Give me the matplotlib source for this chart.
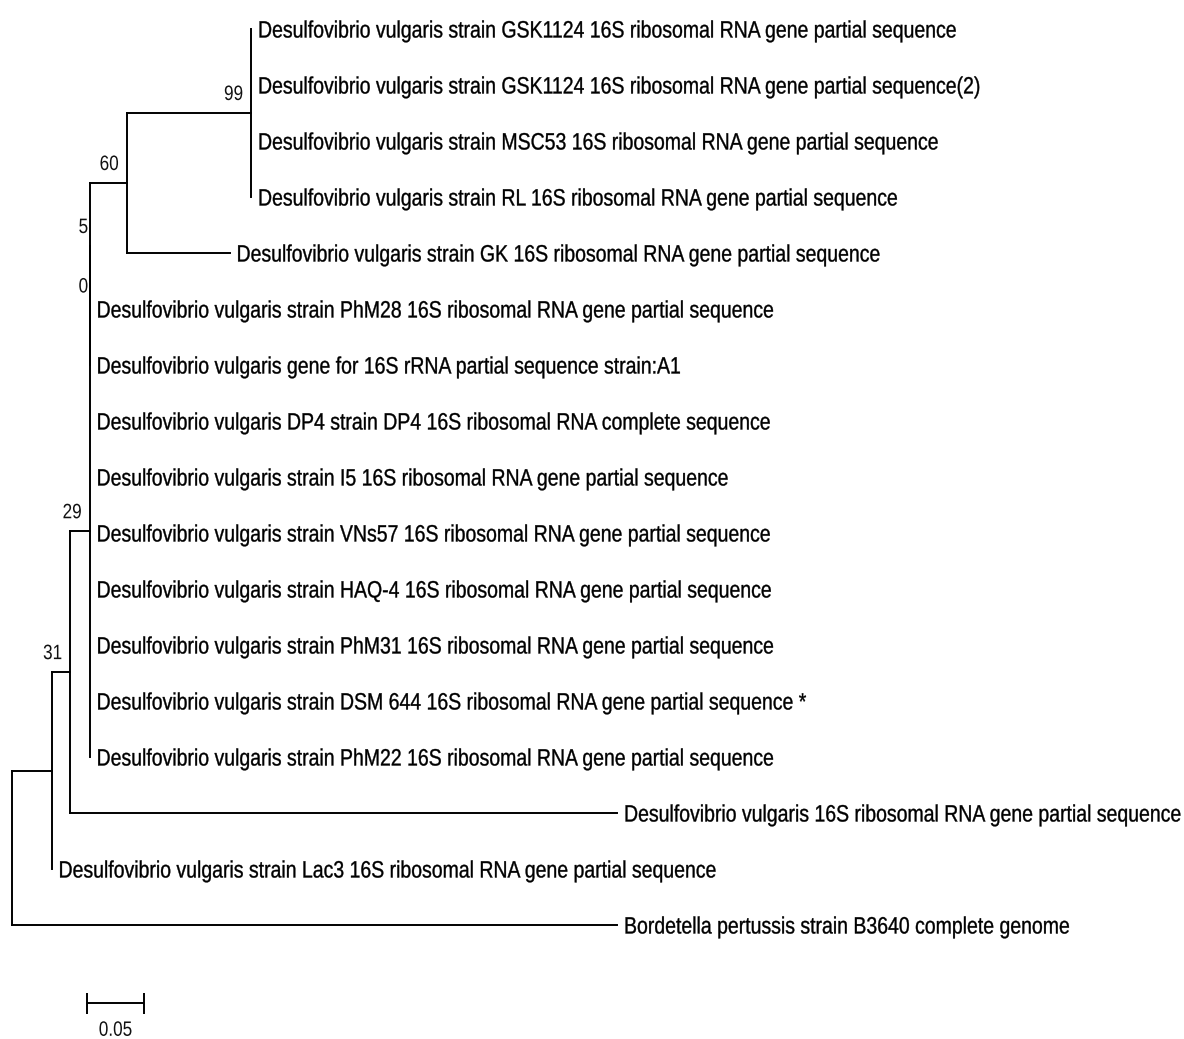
import matplotlib
matplotlib.use("Agg")
import matplotlib.pyplot as plt
from matplotlib.patheffects import AbstractPathEffect
from matplotlib.transforms import Affine2D

# ---------------- data ----------------
leaf_labels = [
    "Desulfovibrio vulgaris strain GSK1124 16S ribosomal RNA gene partial sequence",
    "Desulfovibrio vulgaris strain GSK1124 16S ribosomal RNA gene partial sequence(2)",
    "Desulfovibrio vulgaris strain MSC53 16S ribosomal RNA gene partial sequence",
    "Desulfovibrio vulgaris strain RL 16S ribosomal RNA gene partial sequence",
    "Desulfovibrio vulgaris strain GK 16S ribosomal RNA gene partial sequence",
    "Desulfovibrio vulgaris strain PhM28 16S ribosomal RNA gene partial sequence",
    "Desulfovibrio vulgaris gene for 16S rRNA partial sequence strain:A1",
    "Desulfovibrio vulgaris DP4 strain DP4 16S ribosomal RNA complete sequence",
    "Desulfovibrio vulgaris strain I5 16S ribosomal RNA gene partial sequence",
    "Desulfovibrio vulgaris strain VNs57 16S ribosomal RNA gene partial sequence",
    "Desulfovibrio vulgaris strain HAQ-4 16S ribosomal RNA gene partial sequence",
    "Desulfovibrio vulgaris strain PhM31 16S ribosomal RNA gene partial sequence",
    "Desulfovibrio vulgaris strain DSM 644 16S ribosomal RNA gene partial sequence *",
    "Desulfovibrio vulgaris strain PhM22 16S ribosomal RNA gene partial sequence",
    "Desulfovibrio vulgaris 16S ribosomal RNA gene partial sequence",
    "Desulfovibrio vulgaris strain Lac3 16S ribosomal RNA gene partial sequence",
    "Bordetella pertussis strain B3640 complete genome",
]
leaf_lengths = [0, 0, 0, 0, 0.0905, 0, 0, 0, 0, 0, 0, 0, 0, 0, 0.4815, 0, 0.5326]

node_names = ["n99", "n60", "n5", "n0", "n29", "n31", "nA", "root"]
node_children = [
    [0, 1, 2, 3],
    ["n99", 4],
    ["n60", 5],
    ["n5", 6],
    ["n0", 7, 8, 9, 10, 11, 12, 13],
    ["n29", 14],
    ["n31", 15],
    ["nA", 16],
]
node_lengths = [0.1094, 0.0327, 0, 0, 0.0172, 0.0163, 0.0348, 0]
node_support = ["99", "60", "5", "0", "29", "31", "", ""]

scale_length = 0.05
scale_label = "0.05"

# ---------------- layout / style ----------------
W, H, DPI = 1184, 1039, 100
PX_PER_UNIT = 1136.0
ROOT_PX = 12.0
ROW0_PX, ROW_PX = 29.0, 56.0
LW = 1.4
FONT = ["Liberation Sans", "DejaVu Sans"]
LEAF_FS = 17.0      # size giving the reference cap height
SUP_FS = 15.0
TARGET_W0 = 700.0   # px width of the first leaf label in the reference
SCALE_X0 = (87.0 - ROOT_PX) / PX_PER_UNIT
SCALE_ROW = (1003.3 - ROW0_PX) / ROW_PX
CAP_ROWS = 10.5 / ROW_PX
LEAF_STROKE_PX = 0.25
SUP_STROKE_PX = 0.0


def pt(px):
    return px * 72.0 / DPI


class TallText(AbstractPathEffect):
    """Stretch glyphs vertically about the baseline (reference type is tall/condensed)
    and optionally give them a hair stroke for the reference's heavier look."""

    def __init__(self, sy, stroke):
        super().__init__()
        self.sy = sy
        self.stroke = stroke

    def draw_path(self, renderer, gc, tpath, affine, rgbFace=None):
        tr = Affine2D().scale(1.0, self.sy) + affine
        gc0 = renderer.new_gc()
        gc0.copy_properties(gc)
        gc0.set_linewidth(self.stroke)
        if self.stroke > 0:
            gc0.set_foreground(rgbFace if rgbFace is not None else "black")
            gc0.set_joinstyle("round")
        renderer.draw_path(gc0, tpath, tr, rgbFace)
        gc0.restore()


fig = plt.figure(figsize=(W / DPI, H / DPI), dpi=DPI)
fig.patch.set_facecolor("white")
ax = fig.add_axes([0, 0, 1, 1])
ax.set_xlim(-ROOT_PX / PX_PER_UNIT, (W - ROOT_PX) / PX_PER_UNIT)
ax.set_ylim((H - ROW0_PX) / ROW_PX, -ROW0_PX / ROW_PX)
ax.axis("off")

# ---------------- tree coordinates ----------------
node_idx = {n: i for i, n in enumerate(node_names)}
leaf_y = list(range(len(leaf_labels)))
node_y = [0.0] * len(node_names)


def ypos(c):
    return leaf_y[c] if isinstance(c, int) else node_y[node_idx[c]]


for i, ch in enumerate(node_children):
    node_y[i] = 0.5 * (ypos(ch[0]) + ypos(ch[-1]))

leaf_x = [0.0] * len(leaf_labels)
node_x = [0.0] * len(node_names)


def place(name, x):
    i = node_idx[name]
    node_x[i] = x
    for c in node_children[i]:
        if isinstance(c, int):
            leaf_x[c] = x + leaf_lengths[c]
        else:
            place(c, x + node_lengths[node_idx[c]])


place("root", 0.0)


def xpos(c):
    return leaf_x[c] if isinstance(c, int) else node_x[node_idx[c]]


line_kw = dict(color="black", lw=LW, solid_capstyle="projecting")
for i, ch in enumerate(node_children):
    ax.plot([node_x[i], node_x[i]], [ypos(ch[0]), ypos(ch[-1])], **line_kw)
    for c in ch:
        if xpos(c) > node_x[i]:
            ax.plot([node_x[i], xpos(c)], [ypos(c), ypos(c)], **line_kw)

# ---------------- labels ----------------
leaf_texts = []
for i, lab in enumerate(leaf_labels):
    t = ax.annotate(lab, (leaf_x[i], leaf_y[i]), xytext=(pt(7.0), -pt(8.5)),
                    textcoords="offset points", ha="left", va="baseline",
                    fontsize=LEAF_FS, family=FONT, color="black")
    leaf_texts.append(t)

sup_texts = []
for i, s in enumerate(node_support):
    if not s:
        continue
    gap = 1.5 if node_lengths[i] == 0 else 8.0
    t = ax.annotate(s, (node_x[i], node_y[i]), xytext=(-pt(gap), pt(13.0)),
                    textcoords="offset points", ha="right", va="baseline",
                    fontsize=SUP_FS, family=FONT, color="#111111")
    sup_texts.append(t)

# scale bar
sx0, sx1 = SCALE_X0, SCALE_X0 + scale_length
ax.plot([sx0, sx1], [SCALE_ROW, SCALE_ROW], color="black", lw=LW, solid_capstyle="butt")
for xx in (sx0, sx1):
    ax.plot([xx, xx], [SCALE_ROW - CAP_ROWS, SCALE_ROW + CAP_ROWS], color="black",
            lw=LW, solid_capstyle="butt")
st = ax.annotate(scale_label, ((sx0 + sx1) / 2, SCALE_ROW), xytext=(0, -pt(32.5)),
                 textcoords="offset points", ha="center", va="baseline",
                 fontsize=SUP_FS, family=FONT, color="#111111")

# fit the type width to the reference, then restore the glyph height by a vertical stretch
fig.canvas.draw()
r = fig.canvas.get_renderer()
w0 = leaf_texts[0].get_window_extent(r).width
k = TARGET_W0 / w0
sy = 1.0 / k
for t in leaf_texts:
    t.set_fontsize(t.get_fontsize() * k)
    t.set_path_effects([TallText(sy, LEAF_STROKE_PX)])
for t in sup_texts + [st]:
    t.set_fontsize(t.get_fontsize() * k)
    t.set_path_effects([TallText(sy, SUP_STROKE_PX)])

fig.savefig("out.png", dpi=DPI, facecolor="white")
